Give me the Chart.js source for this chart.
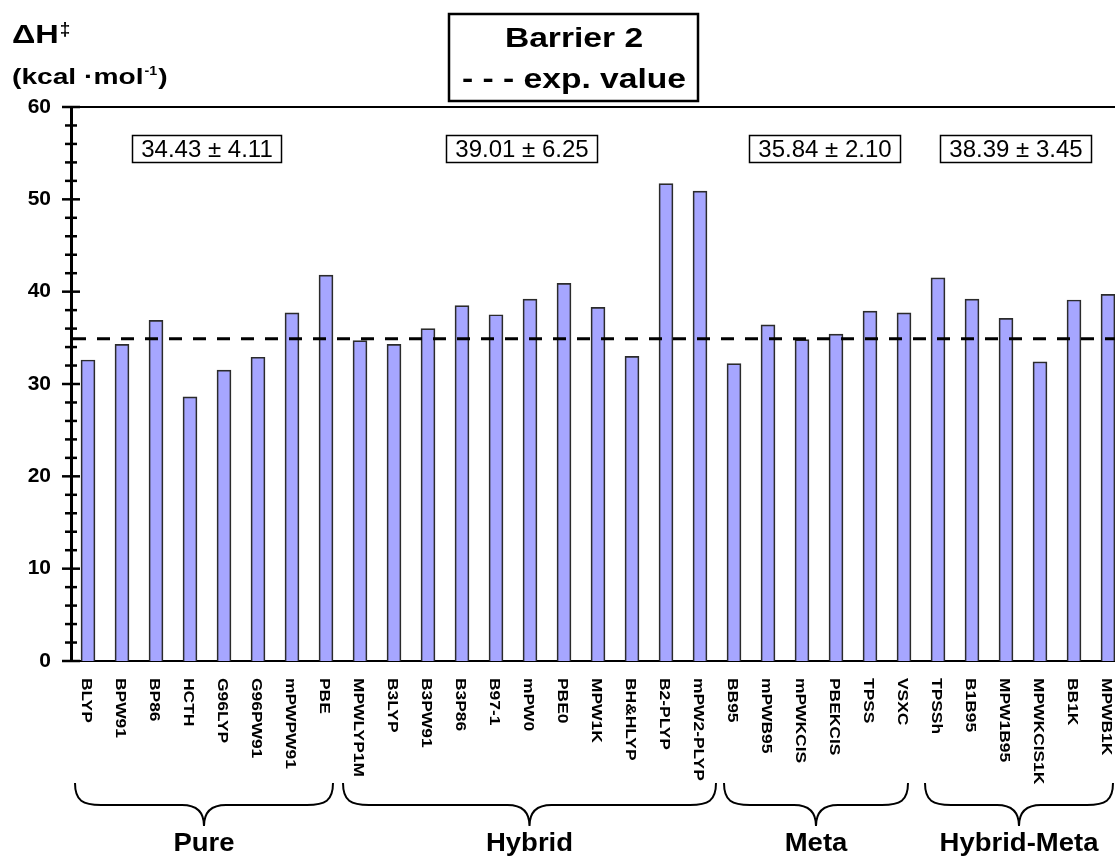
<!DOCTYPE html>
<html>
<head>
<meta charset="utf-8">
<script src="https://cdn.jsdelivr.net/npm/chart.js@4/dist/chart.umd.min.js"></script>
<style>
  html, body { margin: 0; padding: 0; background: #fff; overflow: hidden; }
  canvas { display: block; }
</style>
</head>
<body>
<canvas id="barrierChart" width="1130" height="857"></canvas>
<script>
// functionals (x categories)
var functionals = ["BLYP", "BPW91", "BP86", "HCTH", "G96LYP", "G96PW91", "mPWPW91", "PBE",
  "MPWLYP1M", "B3LYP", "B3PW91", "B3P86", "B97-1", "mPW0", "PBE0", "MPW1K", "BH&HLYP", "B2-PLYP", "mPW2-PLYP",
  "BB95", "mPWB95", "mPWKCIS", "PBEKCIS", "TPSS", "VSXC",
  "TPSSh", "B1B95", "MPW1B95", "MPWKCIS1K", "BB1K", "MPWB1K"];

// barrier heights, kcal/mol
var barrier = [32.6, 34.3, 36.9, 28.6, 31.5, 32.9, 37.7, 41.8,
  34.7, 34.3, 36.0, 38.5, 37.5, 39.2, 40.9, 38.3, 33.0, 51.7, 50.9,
  32.2, 36.4, 34.8, 35.4, 37.9, 37.7,
  41.5, 39.2, 37.1, 32.4, 39.1, 39.7];

var expValue = 34.9;

var groupNames = ["Pure", "Hybrid", "Meta", "Hybrid-Meta"];
var groupSizes = [8, 11, 6, 6];
var groupStats = ["34.43 \u00b1 4.11", "39.01 \u00b1 6.25", "35.84 \u00b1 2.10", "38.39 \u00b1 3.45"];

var yTicks = [0, 10, 20, 30, 40, 50, 60];
var yMinorStep = 2;

var FONT = "'Liberation Sans', Arial, Helvetica, sans-serif";

function txt(ctx, s, x, y, font, sx, align) {
  ctx.save();
  ctx.font = font;
  ctx.fillStyle = "#000";
  ctx.textAlign = align || "left";
  ctx.textBaseline = "alphabetic";
  ctx.translate(x, y);
  ctx.scale(sx || 1, 1);
  ctx.fillText(s, 0, 0);
  var w = ctx.measureText(s).width * (sx || 1);
  ctx.restore();
  return w;
}

function brace(ctx, x0, x1, top) {
  var mid = (x0 + x1) / 2;
  var yh = top + 22, tip = top + 43;
  ctx.beginPath();
  ctx.moveTo(x0, top);
  ctx.bezierCurveTo(x0, yh - 4, x0 + 8, yh, x0 + 26, yh);
  ctx.lineTo(mid - 22, yh);
  ctx.bezierCurveTo(mid - 6, yh, mid, yh + 8, mid, tip);
  ctx.bezierCurveTo(mid, yh + 8, mid + 6, yh, mid + 22, yh);
  ctx.lineTo(x1 - 26, yh);
  ctx.bezierCurveTo(x1 - 8, yh, x1, yh - 4, x1, top);
  ctx.stroke();
}

var decorations = {
  id: "decorations",
  afterDatasetsDraw: function (chart) {
    var ctx = chart.ctx, area = chart.chartArea, y = chart.scales.y;
    var py = y.getPixelForValue(expValue);
    ctx.save();
    ctx.strokeStyle = "#000";
    ctx.lineWidth = 3;
    ctx.setLineDash([13, 11]);
    ctx.beginPath();
    ctx.moveTo(area.left + 2, py);
    ctx.lineTo(area.right, py);
    ctx.stroke();
    ctx.restore();
  },
  afterDraw: function (chart) {
    var ctx = chart.ctx, area = chart.chartArea, x = chart.scales.x, y = chart.scales.y;
    ctx.save();
    ctx.strokeStyle = "#000";
    ctx.fillStyle = "#000";

    // top frame line
    ctx.lineWidth = 2;
    ctx.beginPath();
    ctx.moveTo(area.left, area.top);
    ctx.lineTo(area.right, area.top);
    ctx.stroke();

    // y ticks crossing the axis
    ctx.lineWidth = 2.5;
    for (var v = yTicks[0]; v <= yTicks[yTicks.length - 1]; v += yMinorStep) {
      var p = y.getPixelForValue(v);
      var len = (v % 10 === 0) ? 9 : 6;
      ctx.beginPath();
      ctx.moveTo(area.left - len, p);
      ctx.lineTo(area.left + len, p);
      ctx.stroke();
    }

    // rotated category labels
    functionals.forEach(function (name, i) {
      var cx = x.getPixelForValue(i) - 2;
      ctx.save();
      ctx.translate(cx, area.bottom + 17);
      ctx.rotate(Math.PI / 2);
      ctx.scale(1.2, 1);
      ctx.font = "bold 14.5px " + FONT;
      ctx.textAlign = "left";
      ctx.textBaseline = "middle";
      ctx.fillText(name, 0, 0);
      ctx.restore();
    });

    // group braces, names and stat boxes
    var start = 0;
    var statNudge = [0, -8, 6, -7];
    var braceInset = [[4, 10], [0, 1], [7, 13], [4, 12]];
    groupNames.forEach(function (g, k) {
      var end = start + groupSizes[k] - 1;
      var half = (x.getPixelForValue(1) - x.getPixelForValue(0)) / 2;
      var left = x.getPixelForValue(start) - half;
      var right = x.getPixelForValue(end) + half;
      var x0 = left + braceInset[k][0], x1 = right - braceInset[k][1];
      ctx.lineWidth = 2;
      brace(ctx, x0, x1, 783);
      txt(ctx, g, (x0 + x1) / 2, 851, "bold 25px " + FONT, 1.1, "center");

      // mean +/- sd box
      var cx = (left + right) / 2 + statNudge[k];
      ctx.font = "24px " + FONT;
      var w = ctx.measureText(groupStats[k]).width;
      var by = y.getPixelForValue(55.5);
      ctx.lineWidth = 1.5;
      ctx.strokeRect(Math.round(cx - w / 2 - 9) + 0.5, Math.round(by - 14) + 0.5, Math.round(w + 18), 27);
      txt(ctx, groupStats[k], cx, by + 8.5, "24px " + FONT, 1, "center");
      start = end + 1;
    });

    // legend box
    ctx.lineWidth = 2.5;
    ctx.strokeRect(449, 14, 249, 87);
    txt(ctx, "Barrier 2", 574, 47, "bold 28px " + FONT, 1.2, "center");
    txt(ctx, "- - - exp. value", 574, 88, "bold 28px " + FONT, 1.2, "center");

    // axis title
    var w1 = txt(ctx, "\u0394H", 12, 43, "bold 26px " + FONT, 1.25);
    txt(ctx, "\u2021", 12 + w1 + 1, 35, "bold 19px " + FONT, 1);
    var w2 = txt(ctx, "(kcal \u00b7mol", 12, 84, "bold 22px " + FONT, 1.28);
    var w3 = txt(ctx, "-1", 12 + w2 + 1, 75, "bold 13px " + FONT, 1.1);
    txt(ctx, ")", 12 + w2 + w3 + 2, 84, "bold 22px " + FONT, 1.28);

    ctx.restore();
  }
};

var chartData = {
  labels: functionals,
  datasets: [{
    label: "Barrier 2",
    data: barrier,
    backgroundColor: "#a6a6ff",
    borderColor: "#2b2b2b",
    borderWidth: 1.7,
    barThickness: 14
  }]
};

var chartOptions = {
  responsive: false,
  animation: false,
  layout: { padding: { top: 107, right: 5, left: 0, bottom: 0 } },
  plugins: {
    legend: { display: false },
    tooltip: { enabled: false }
  },
  scales: {
    x: {
      grid: { display: false, drawTicks: false },
      border: { display: true, color: "#000", width: 2 },
      ticks: { display: false },
      afterFit: function (scale) { scale.height = 196; }
    },
    y: {
      min: 0,
      max: 60,
      grid: { display: false, drawTicks: false },
      border: { display: true, color: "#000", width: 3 },
      ticks: {
        stepSize: 10,
        color: "#000",
        padding: 20,
        font: { family: FONT, size: 21, weight: "bold" }
      },
      afterBuildTicks: function (scale) {
        scale.ticks = yTicks.map(function (v) { return { value: v }; });
      },
      afterFit: function (scale) { scale.width = 71; }
    }
  }
};

new Chart(document.getElementById("barrierChart"), {
  type: "bar",
  data: chartData,
  options: chartOptions,
  plugins: [decorations]
});
</script>
</body>
</html>
